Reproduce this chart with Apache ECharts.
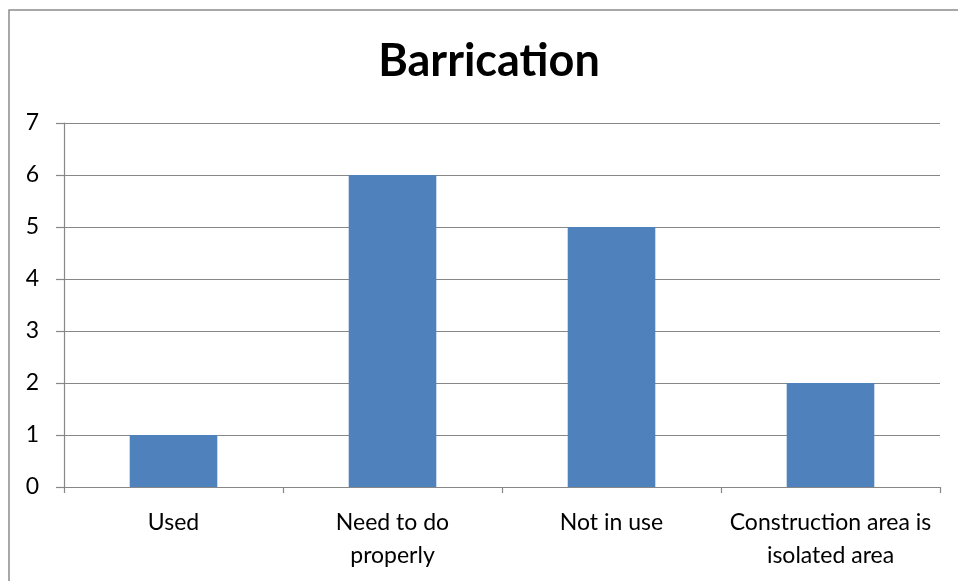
<!DOCTYPE html>
<html>
<head>
<meta charset="utf-8">
<script src="https://cdn.jsdelivr.net/npm/echarts@6/dist/echarts.min.js"></script>
<style>
  html, body { margin: 0; padding: 0; background: #ffffff; }
  #chart { width: 958px; height: 581px; }
</style>
</head>
<body>
<div id="chart"></div>
<script>
// Survey responses about site barrication
const categories = ['Used', 'Need to do\nproperly', 'Not in use', 'Construction area is\nisolated area'];
const counts = [1, 6, 5, 2];
const yTicks = { min: 0, max: 7, interval: 1 };

const chart = echarts.init(document.getElementById('chart'), null, { renderer: 'canvas' });

const labelFont = 'Lato, "Open Sans", sans-serif';
const gridColor = '#878787';

chart.setOption({
  backgroundColor: '#ffffff',
  animation: false,
  title: {
    text: 'Barrication',
    left: 484,
    top: 34,
    textAlign: 'center',
    textStyle: {
      fontFamily: labelFont,
      fontWeight: 'bold',
      fontSize: 45,
      color: '#000000'
    }
  },
  graphic: [
    {
      type: 'polyline',
      shape: { points: [[9, 581], [9, 10], [958, 10]] },
      style: { stroke: '#8c8c8c', lineWidth: 1.5, fill: null },
      silent: true
    }
  ],
  grid: { left: 64, right: 18, top: 123, bottom: 94, containLabel: false },
  xAxis: {
    type: 'category',
    data: categories,
    axisLine: { lineStyle: { color: gridColor, width: 1.2 } },
    axisTick: { show: true, length: 6, lineStyle: { color: gridColor, width: 1.2 } },
    axisLabel: {
      fontFamily: labelFont,
      fontSize: 23,
      color: '#000000',
      lineHeight: 33,
      margin: 19,
      interval: 0
    }
  },
  yAxis: {
    type: 'value',
    min: yTicks.min,
    max: yTicks.max,
    interval: yTicks.interval,
    axisLine: { show: true, lineStyle: { color: gridColor, width: 1.2 } },
    axisTick: { show: true, length: 8, lineStyle: { color: gridColor, width: 1.2 } },
    axisLabel: {
      fontFamily: labelFont,
      fontSize: 23,
      color: '#000000',
      margin: 25
    },
    splitLine: { show: true, lineStyle: { color: gridColor, width: 1.2 } }
  },
  series: [
    {
      type: 'bar',
      data: counts,
      barCategoryGap: '60%',
      itemStyle: { color: '#4f81bd' }
    }
  ]
});
</script>
</body>
</html>
